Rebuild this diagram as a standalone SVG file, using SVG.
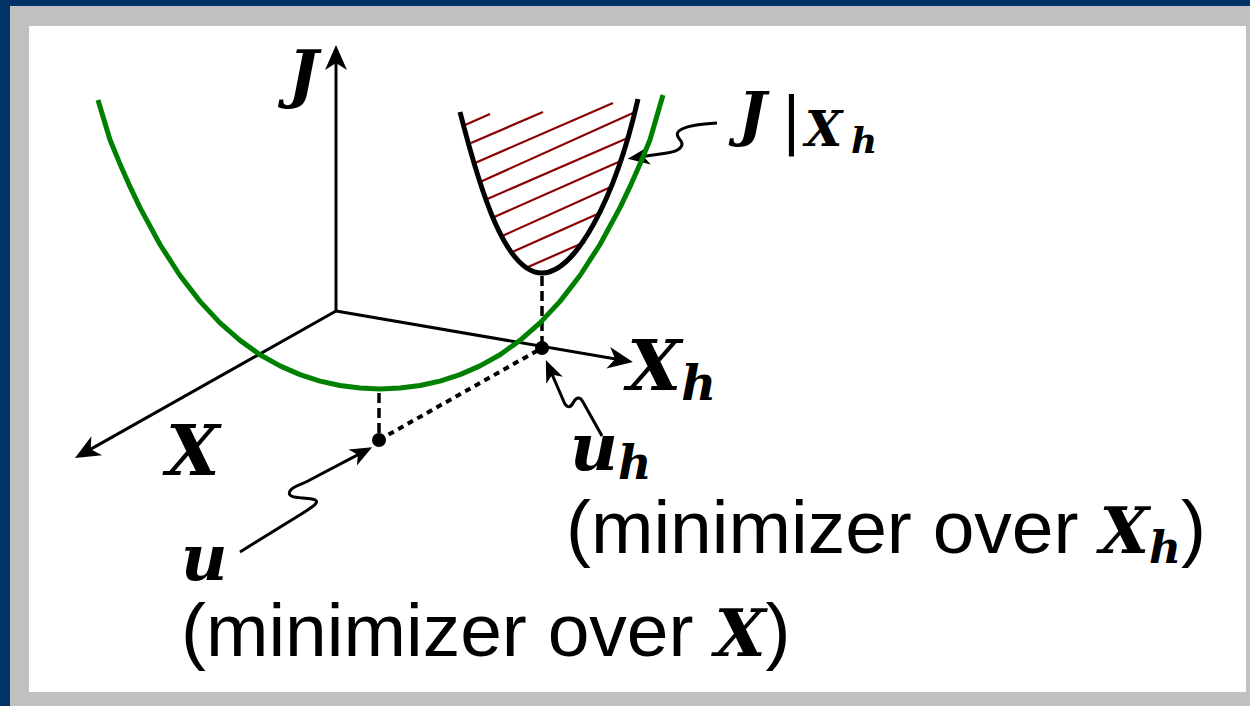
<svg xmlns="http://www.w3.org/2000/svg" width="1250" height="706" viewBox="0 0 1250 706">
<style>
.ax{stroke:#000;stroke-width:3;fill:none}
.math{font-family:"DejaVu Serif","Liberation Serif",serif;font-weight:bold;font-style:italic;fill:#000}
.lab{font-family:"Liberation Sans",Arial,sans-serif;fill:#000}
.hatch{stroke:#8b0000;stroke-width:2.2;fill:none}
.dash{stroke:#000;stroke-width:3.5;fill:none;stroke-dasharray:10 5}
.dot{stroke:#000;stroke-width:4;fill:none;stroke-dasharray:6 5}
</style>
<defs>
<marker id="ah" markerUnits="userSpaceOnUse" orient="auto" refX="0" refY="0" markerWidth="40" markerHeight="40" overflow="visible">
<path d="M10,0 L-15,-11 L-8,0 L-15,11 Z" fill="#000"/>
</marker>
<marker id="ahs" markerUnits="userSpaceOnUse" orient="auto" refX="0" refY="0" markerWidth="40" markerHeight="40" overflow="visible">
<path d="M10,0 L-12,-9 L-6,0 L-12,9 Z" fill="#000"/>
</marker>
</defs>
<g id="frame">
<rect x="0" y="0" width="1250" height="706" fill="#003366"/>
<rect x="10" y="6" width="1240" height="700" fill="#c0c0c0"/>
<rect x="29" y="26" width="1217" height="666" fill="#ffffff"/>
</g>
<g id="hatching">
<line class="hatch" x1="465" y1="125" x2="490" y2="114"/>
<line class="hatch" x1="471" y1="143" x2="543" y2="112"/>
<line class="hatch" x1="475" y1="163" x2="613" y2="103"/>
<line class="hatch" x1="480" y1="182" x2="633" y2="113"/>
<line class="hatch" x1="485" y1="200" x2="630" y2="137"/>
<line class="hatch" x1="492" y1="218" x2="623" y2="160"/>
<line class="hatch" x1="500" y1="237" x2="613" y2="186"/>
<line class="hatch" x1="510" y1="253" x2="602" y2="212"/>
<line class="hatch" x1="528" y1="267" x2="585" y2="242"/>
</g>
<g id="connectors">
<line class="ax" x1="336" y1="311" x2="336" y2="55" marker-end="url(#ah)"/>
<line class="ax" x1="336" y1="311" x2="83.7" y2="453.1" marker-end="url(#ah)"/>
<line class="ax" x1="336" y1="311" x2="623.1" y2="360.3" marker-end="url(#ah)"/>
<line class="dash" x1="379" y1="393" x2="379" y2="440"/>
<line class="dash" x1="542" y1="276" x2="542" y2="348"/>
<line class="dot" x1="379" y1="440" x2="542" y2="348"/>
<path class="ax" d="M240,552 L303,513 C314,506 322,501 312,499 C301,497 286,499 290,491 C293,486 300,485 306,482 L363.3,451.9" marker-end="url(#ahs)"/>
<path class="ax" d="M602,436 L583,402 C580,396 576,397 573,403 C570,409 566,407 564,402 L549.8,369.2" marker-end="url(#ahs)"/>
<path class="ax" d="M717,123 C700,124 690,125 682,129 C674,133 678,137 681,141 C684,146 680,151 667,153 L637.6,157.3" marker-end="url(#ahs)"/>
</g>
<g id="J-curve">
<polyline fill="none" stroke="#008000" stroke-width="5" stroke-linejoin="round" points="98,100 110,139.7 120,164.1 130,186.7 140,207.6 160,244.5 180,275.5 200,301.4 220,322.9 240,340.4 260,354.7 280,365.9 300,374.6 320,381.1 340,385.5 360,388.1 380,389 400,388.1 420,385.5 440,381.1 460,374.6 480,365.9 500,354.7 520,340.4 540,322.9 560,301.4 580,275.5 600,244.5 620,207.6 630,186.7 640,164.1 650,139.7 663,95"/>
</g>
<g id="JXh-curve">
<path fill="none" stroke="#000" stroke-width="5" d="M460,112 C480,190 505,273 542,273 C575,273 615,200 638,99"/>
</g>
<g id="point-u"><circle cx="379" cy="440" r="7" fill="#000"/></g>
<g id="point-uh"><circle cx="542" cy="348" r="7" fill="#000"/></g>
<g id="label-J"><text class="math" x="288" y="96" font-size="64">J</text></g>
<g id="label-X"><text class="math" x="166" y="475" font-size="69">X</text></g>
<g id="label-Xh"><text class="math" x="627" y="390" font-size="70">X<tspan font-size="48" dy="10">h</tspan></text></g>
<g id="label-JXh"><text class="math" x="738" y="135" font-size="60">J<tspan x="781" y="141" font-family="DejaVu Sans" font-weight="normal" font-style="normal" font-size="62">|</tspan><tspan x="805" y="146" font-size="48">X</tspan><tspan x="851" y="153" font-size="36">h</tspan></text></g>
<g id="label-uh">
<text class="math" x="570" y="470" font-size="66">u<tspan font-size="46" dy="9">h</tspan><tspan class="lab" font-style="normal" font-weight="normal" x="566" y="553" font-size="75">(minimizer over </tspan><tspan font-size="64">X</tspan><tspan font-size="44" dy="10">h</tspan><tspan class="lab" font-style="normal" font-weight="normal" font-size="75" dy="-10">)</tspan></text>
</g>
<g id="label-u">
<text class="math" x="181" y="580" font-size="64">u<tspan class="lab" font-style="normal" font-weight="normal" x="181" y="656" font-size="75">(minimizer over </tspan><tspan font-size="66">X</tspan><tspan class="lab" font-style="normal" font-weight="normal" font-size="75">)</tspan></text>
</g>
</svg>
